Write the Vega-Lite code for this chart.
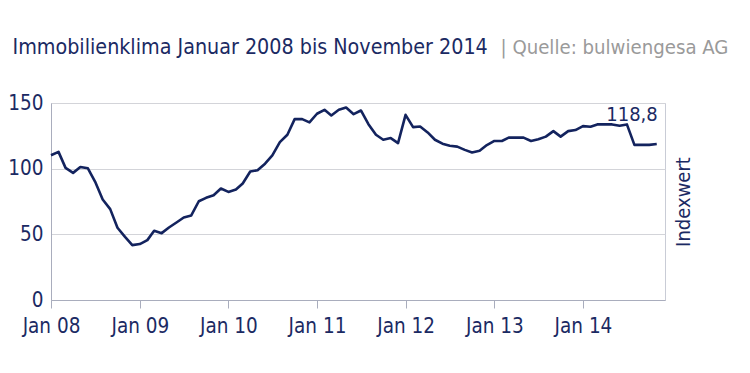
{
  "$schema": "https://vega.github.io/schema/vega-lite/v6.json",
  "width": 614,
  "height": 197,
  "autosize": "none",
  "padding": {"left": 51, "top": 103, "right": 85, "bottom": 73},
  "background": "white",
  "config": {
    "font": "'DejaVu Sans Condensed', Lato, sans-serif",
    "view": {"stroke": "#c9ccd6", "strokeWidth": 1}
  },
  "datasets": {
    "series": [
      {"date": "2008-01-01", "value": 110.2}, {"date": "2008-02-01", "value": 112.8}, {"date": "2008-03-01", "value": 100.6}, {"date": "2008-04-01", "value": 96.8}, {"date": "2008-05-01", "value": 101.3}, {"date": "2008-06-01", "value": 100.3}, {"date": "2008-07-01", "value": 90.0}, {"date": "2008-08-01", "value": 76.5}, {"date": "2008-09-01", "value": 69.2}, {"date": "2008-10-01", "value": 55.0}, {"date": "2008-11-01", "value": 48.1}, {"date": "2008-12-01", "value": 41.8},
      {"date": "2009-01-01", "value": 42.6}, {"date": "2009-02-01", "value": 45.6}, {"date": "2009-03-01", "value": 52.7}, {"date": "2009-04-01", "value": 50.9}, {"date": "2009-05-01", "value": 55.2}, {"date": "2009-06-01", "value": 59.0}, {"date": "2009-07-01", "value": 62.8}, {"date": "2009-08-01", "value": 64.4}, {"date": "2009-09-01", "value": 75.2}, {"date": "2009-10-01", "value": 77.8}, {"date": "2009-11-01", "value": 79.8}, {"date": "2009-12-01", "value": 84.9},
      {"date": "2010-01-01", "value": 82.3}, {"date": "2010-02-01", "value": 84.1}, {"date": "2010-03-01", "value": 88.7}, {"date": "2010-04-01", "value": 97.8}, {"date": "2010-05-01", "value": 98.8}, {"date": "2010-06-01", "value": 103.8}, {"date": "2010-07-01", "value": 110.1}, {"date": "2010-08-01", "value": 120.2}, {"date": "2010-09-01", "value": 125.8}, {"date": "2010-10-01", "value": 137.7}, {"date": "2010-11-01", "value": 137.7}, {"date": "2010-12-01", "value": 135.2},
      {"date": "2011-01-01", "value": 141.8}, {"date": "2011-02-01", "value": 144.8}, {"date": "2011-03-01", "value": 140.5}, {"date": "2011-04-01", "value": 144.8}, {"date": "2011-05-01", "value": 146.6}, {"date": "2011-06-01", "value": 141.5}, {"date": "2011-07-01", "value": 144.3}, {"date": "2011-08-01", "value": 133.9}, {"date": "2011-09-01", "value": 125.8}, {"date": "2011-10-01", "value": 122.0}, {"date": "2011-11-01", "value": 123.3}, {"date": "2011-12-01", "value": 119.5},
      {"date": "2012-01-01", "value": 141.0}, {"date": "2012-02-01", "value": 131.6}, {"date": "2012-03-01", "value": 132.1}, {"date": "2012-04-01", "value": 127.6}, {"date": "2012-05-01", "value": 122.0}, {"date": "2012-06-01", "value": 119.0}, {"date": "2012-07-01", "value": 117.5}, {"date": "2012-08-01", "value": 116.8}, {"date": "2012-09-01", "value": 114.3}, {"date": "2012-10-01", "value": 112.3}, {"date": "2012-11-01", "value": 113.6}, {"date": "2012-12-01", "value": 118.0},
      {"date": "2013-01-01", "value": 121.1}, {"date": "2013-02-01", "value": 121.1}, {"date": "2013-03-01", "value": 123.6}, {"date": "2013-04-01", "value": 123.6}, {"date": "2013-05-01", "value": 123.6}, {"date": "2013-06-01", "value": 121.1}, {"date": "2013-07-01", "value": 122.4}, {"date": "2013-08-01", "value": 124.4}, {"date": "2013-09-01", "value": 128.6}, {"date": "2013-10-01", "value": 124.4}, {"date": "2013-11-01", "value": 128.6}, {"date": "2013-12-01", "value": 129.4},
      {"date": "2014-01-01", "value": 132.4}, {"date": "2014-02-01", "value": 131.9}, {"date": "2014-03-01", "value": 133.7}, {"date": "2014-04-01", "value": 133.7}, {"date": "2014-05-01", "value": 133.7}, {"date": "2014-06-01", "value": 132.7}, {"date": "2014-07-01", "value": 133.7}, {"date": "2014-08-01", "value": 118.1}, {"date": "2014-09-01", "value": 118.1}, {"date": "2014-10-01", "value": 118.1}, {"date": "2014-11-01", "value": 118.8}
    ],
    "lastLabel": [
      {"date": "2014-11-01", "value": 118.8, "label": "118,8"}
    ]
  },
  "layer": [
    {
      "data": {"name": "series"},
      "mark": {"type": "line", "color": "#13235e", "strokeWidth": 2.6, "strokeJoin": "round"},
      "encoding": {
        "x": {
          "field": "date",
          "type": "temporal",
          "scale": {"domain": [{"year": 2008, "month": 1, "date": 1}, {"year": 2014, "month": 12, "date": 5}]},
          "axis": {
            "title": null,
            "format": "%b %y",
            "tickCount": {"interval": "year", "step": 1},
            "grid": false,
            "labelFlush": false,
            "labelOverlap": false,
            "domainColor": "#a9adbd",
            "tickColor": "#a9adbd",
            "tickSize": 8,
            "labelPadding": 8,
            "labelFontSize": 20.5,
            "labelColor": "#1b2a63"
          }
        },
        "y": {
          "field": "value",
          "type": "quantitative",
          "scale": {"domain": [0, 150], "nice": false, "zero": true},
          "axis": {
            "orient": "left",
            "values": [0, 50, 100, 150],
            "grid": true,
            "gridColor": "#d3d4d9",
            "gridWidth": 1.2,
            "ticks": false,
            "domainColor": "#a9adbd",
            "labelPadding": 8,
            "labelFontSize": 20.5,
            "labelColor": "#1b2a63",
            "title": "| Quelle: bulwiengesa AG",
            "titleAngle": 0,
            "titleX": 449,
            "titleY": -50,
            "titleAlign": "left",
            "titleAnchor": null,
            "titleBaseline": "alphabetic",
            "titleFontSize": 20.2,
            "titleFontWeight": "normal",
            "titleColor": "#9a9a9a"
          }
        }
      }
    },
    {
      "data": {"name": "lastLabel"},
      "mark": {"type": "text", "align": "right", "baseline": "alphabetic", "dx": 1, "dy": -23, "fontSize": 20, "color": "#1b2a63"},
      "encoding": {
        "x": {
          "field": "date",
          "type": "temporal",
          "axis": {
            "orient": "top",
            "title": "Immobilienklima Januar 2008 bis November 2014",
            "labels": false,
            "ticks": false,
            "domain": false,
            "grid": false,
            "titleX": -39,
            "titleY": -50,
            "titleAlign": "left",
            "titleAnchor": null,
            "titleBaseline": "alphabetic",
            "titleFontSize": 21.3,
            "titleFontWeight": "normal",
            "titleColor": "#1b2a63"
          }
        },
        "y": {
          "field": "value",
          "type": "quantitative",
          "axis": {
            "orient": "right",
            "title": "Indexwert",
            "labels": false,
            "ticks": false,
            "domain": false,
            "grid": false,
            "titleAngle": 270,
            "titlePadding": 28,
            "titleBaseline": "bottom",
            "titleFontSize": 20,
            "titleFontWeight": "normal",
            "titleColor": "#1b2a63"
          }
        },
        "text": {"field": "label"}
      }
    }
  ],
  "resolve": {"scale": {"x": "shared", "y": "shared"}, "axis": {"x": "independent", "y": "independent"}}
}
